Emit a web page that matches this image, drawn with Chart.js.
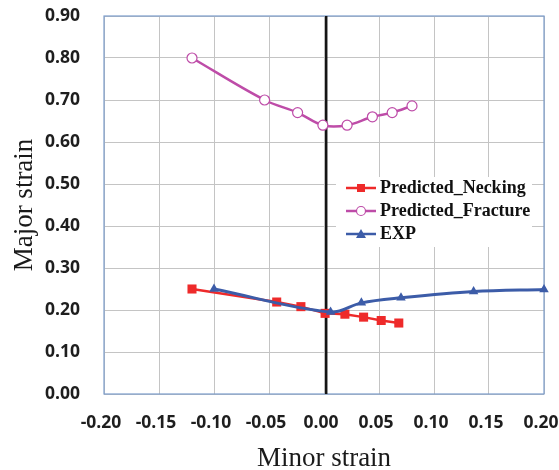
<!DOCTYPE html>
<html>
<head>
<meta charset="utf-8">
<script src="https://cdn.jsdelivr.net/npm/chart.js@4/dist/chart.umd.min.js"></script>
<style>
  html, body { margin: 0; padding: 0; background: #fff; }
  #wrap { width: 559px; height: 470px; }
</style>
</head>
<body>
<div id="wrap"><canvas id="fld" width="559" height="470"></canvas></div>
<script>
// --- data ---
const minorNecking  = [-0.120, -0.043, -0.021, 0.001, 0.019, 0.036, 0.052, 0.068];
const majorNecking  = [ 0.250,  0.219,  0.208, 0.192, 0.190, 0.183, 0.175, 0.169];
const minorFracture = [-0.120, -0.054, -0.024, -0.001, 0.021, 0.044, 0.062, 0.080];
const majorFracture = [ 0.800,  0.700,  0.670,  0.640, 0.640, 0.660, 0.670, 0.686];
const minorExp      = [-0.100, 0.006, 0.034, 0.070, 0.136, 0.200];
const majorExp      = [ 0.250, 0.195, 0.217, 0.229, 0.244, 0.249];
const zeroLineX     = [0.002, 0.002];
const zeroLineY     = [0.0, 0.9];
const seriesNames   = ["Predicted_Necking", "Predicted_Fracture", "EXP"];

const RED = "#EE2A2A", MAG = "#BE4CA8", BLUE = "#3C5CA8";
const toXY = (xs, ys) => xs.map((x, i) => ({ x: x, y: ys[i] }));

// small canvas used as legend marker: line with the point in the middle
function makeSwatch(color, style) {
    const c = document.createElement("canvas");
    c.width = 30; c.height = 14;
    const g = c.getContext("2d");
    g.strokeStyle = color;
    g.lineWidth = 2.5;
    g.beginPath(); g.moveTo(0, 7); g.lineTo(30, 7); g.stroke();
    g.fillStyle = color;
    if (style === "rect") {
        g.fillRect(11, 3, 8, 8);
    } else if (style === "circle") {
        g.fillStyle = "#fff";
        g.beginPath(); g.arc(15, 7, 4.5, 0, Math.PI * 2); g.fill();
        g.lineWidth = 1.2; g.stroke();
    } else {
        g.beginPath(); g.moveTo(15, 2); g.lineTo(20, 11); g.lineTo(10, 11); g.closePath(); g.fill();
    }
    return c;
}

// move legend into the plot and give it a white box
const legendPlacer = {
    id: "legendPlacer",
    afterLayout(chart) {
        const lg = chart.legend;
        if (!lg) return;
        lg.left = 346; lg.top = 174;
        lg.right = lg.left + 190; lg.bottom = lg.top + 75;
    },
    beforeDatasetsDraw(chart) {
        const { ctx, chartArea: a } = chart;
        ctx.save();
        ctx.strokeStyle = "#7C9DCC";
        ctx.lineWidth = 1.2;
        ctx.strokeRect(a.left, a.top, a.right - a.left, a.bottom - a.top);
        ctx.fillStyle = "#fff";
        ctx.fillRect(336, 177, 196, 70);
        ctx.restore();
        chart.legend.draw();
    }
};

const tickFont = { family: "'Open Sans', sans-serif", size: 17.5, weight: "bold" };
const titleFont = { family: "'Liberation Serif', 'Times New Roman', serif", size: 27, lineHeight: 1 };

new Chart(document.getElementById("fld"), {
    type: "line",
    data: {
        datasets: [
            {
                label: seriesNames[0], data: toXY(minorNecking, majorNecking),
                borderColor: RED, backgroundColor: RED, borderWidth: 2.5,
                pointStyle: "rect", pointRadius: 6.4, pointBorderWidth: 0, tension: 0, order: 1
            },
            {
                label: seriesNames[1], data: toXY(minorFracture, majorFracture),
                borderColor: MAG, backgroundColor: "#fff", borderWidth: 2.5,
                pointStyle: "circle", pointRadius: 5, pointBorderWidth: 1.2, tension: 0.35, order: 2
            },
            {
                label: seriesNames[2], data: toXY(minorExp, majorExp),
                borderColor: BLUE, backgroundColor: BLUE, borderWidth: 3,
                pointStyle: "triangle", pointRadius: 5.5, pointBorderWidth: 0, tension: 0.35, order: 0,
                clip: false
            },
            {
                label: "zero", data: toXY(zeroLineX, zeroLineY),
                borderColor: "#151515", borderWidth: 2.5, pointRadius: 0, order: 3
            }
        ]
    },
    options: {
        responsive: false,
        animation: false,
        layout: { padding: 0 },
        plugins: {
            tooltip: { enabled: false },
            legend: {
                position: "chartArea",
                align: "start",
                labels: {
                    usePointStyle: true,
                    pointStyleWidth: 20,
                    padding: 5,
                    color: "#111",
                    font: { family: "'Liberation Serif', 'Times New Roman', serif", size: 18, weight: "bold", lineHeight: 1 },
                    generateLabels(chart) {
                        const styles = ["rect", "circle", "triangle"];
                        const cols = [RED, MAG, BLUE];
                        return seriesNames.map((name, i) => ({
                            text: name, datasetIndex: i,
                            pointStyle: makeSwatch(cols[i], styles[i]),
                            fillStyle: cols[i], strokeStyle: cols[i], lineWidth: 0,
                            fontColor: "#111"
                        }));
                    }
                }
            }
        },
        scales: {
            x: {
                type: "linear", min: -0.2, max: 0.2,
                grid: { color: "#C4C4C4", lineWidth: 1, drawTicks: false },
                border: { display: false },
                ticks: { stepSize: 0.05, padding: 19, labelOffset: -3, color: "#1E1E1E", font: tickFont,
                         callback: v => v.toFixed(2) },
                title: { display: true, text: "Minor strain", color: "#1A1A1A",
                         font: { family: titleFont.family, size: 27, lineHeight: 0.8 },
                         padding: { top: 0, bottom: 0.5 } },
                afterFit(s) { s.height = 76; s.paddingRight = 15; s.paddingLeft = 0; }
            },
            y: {
                type: "linear", min: 0, max: 0.9,
                grid: { color: "#C4C4C4", lineWidth: 1, drawTicks: false },
                border: { display: false },
                ticks: { stepSize: 0.1, padding: 24, color: "#1E1E1E", font: tickFont,
                         callback: v => v.toFixed(2) },
                title: { display: true, text: "Major strain", color: "#1A1A1A", font: titleFont,
                         padding: { top: 11, bottom: 0 } },
                afterFit(s) { s.width = 104; s.paddingTop = 16; s.paddingBottom = 0; }
            }
        }
    },
    plugins: [legendPlacer]
});
</script>
</body>
</html>
